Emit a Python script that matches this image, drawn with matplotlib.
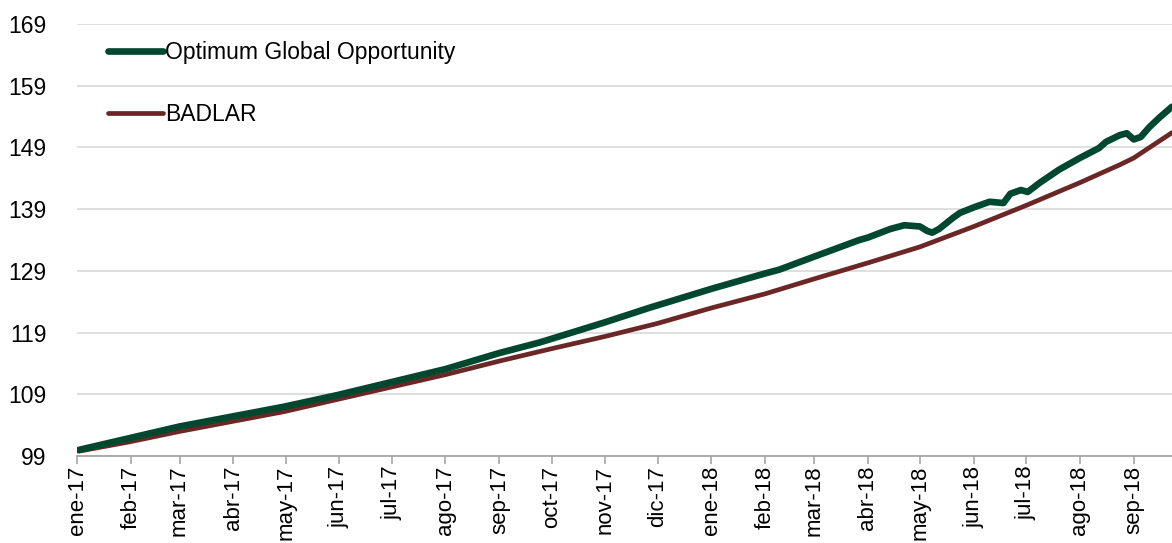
import pandas as pd
import matplotlib.pyplot as plt

# Datos
fechas_fondo = ["2017-01-02", "2017-01-31", "2017-03-01", "2017-03-31", "2017-04-30",
                "2017-05-31", "2017-07-01", "2017-08-01", "2017-09-01", "2017-09-24",
                "2017-10-01", "2017-11-01", "2017-11-26", "2018-01-01", "2018-02-01",
                "2018-02-09", "2018-03-01", "2018-03-27", "2018-04-01", "2018-04-14",
                "2018-04-22", "2018-05-01", "2018-05-05", "2018-05-08", "2018-05-12",
                "2018-05-20", "2018-05-24", "2018-06-01", "2018-06-10", "2018-06-18",
                "2018-06-22", "2018-06-28", "2018-07-02", "2018-07-09", "2018-07-20",
                "2018-08-01", "2018-08-12", "2018-08-16", "2018-08-24", "2018-08-28",
                "2018-09-01", "2018-09-05", "2018-09-10", "2018-09-16", "2018-09-23"]
valores_fondo = [100.0, 101.9, 103.8, 105.4, 107.0,
                 108.9, 111.0, 113.1, 115.7, 117.4,
                 118.0, 120.7, 123.0, 126.1, 128.6,
                 129.2, 131.3, 134.0, 134.4, 135.8,
                 136.4, 136.2, 135.5, 135.2, 135.8,
                 137.6, 138.4, 139.3, 140.2, 140.0,
                 141.5, 142.1, 141.8, 143.3, 145.4,
                 147.3, 148.9, 149.9, 151.0, 151.3,
                 150.3, 150.7, 152.3, 153.9, 155.6]

fechas_badlar = ["2017-01-02", "2017-01-31", "2017-03-01", "2017-03-31", "2017-04-30",
                 "2017-05-31", "2017-07-01", "2017-08-01", "2017-09-01", "2017-10-01",
                 "2017-11-01", "2017-12-01", "2018-01-01", "2018-02-01", "2018-03-01",
                 "2018-04-01", "2018-05-01", "2018-06-01", "2018-07-01", "2018-08-01",
                 "2018-08-24", "2018-09-01", "2018-09-23"]
valores_badlar = [99.8, 101.3, 103.0, 104.6, 106.2,
                  108.2, 110.2, 112.2, 114.4, 116.4,
                  118.4, 120.5, 123.0, 125.3, 127.7,
                  130.3, 132.9, 136.2, 139.6, 143.3,
                  146.2, 147.3, 151.4]

meses = ["ene-17", "feb-17", "mar-17", "abr-17", "may-17", "jun-17", "jul-17",
         "ago-17", "sep-17", "oct-17", "nov-17", "dic-17", "ene-18", "feb-18",
         "mar-18", "abr-18", "may-18", "jun-18", "jul-18", "ago-18", "sep-18"]
y_ticks = [99, 109, 119, 129, 139, 149, 159, 169]

plt.rcParams['font.family'] = ['Liberation Sans Narrow', 'Liberation Sans', 'DejaVu Sans']

verde = "#00472F"
bordo = "#6B2626"

fig = plt.figure(figsize=(11.72, 5.43), dpi=100)
ax = fig.add_axes([0.0657, 0.160, 0.9343, 0.7958])

ax.plot(pd.to_datetime(fechas_badlar), valores_badlar, color=bordo, lw=3.4,
        solid_capstyle="round", label="BADLAR", zorder=3)
ax.plot(pd.to_datetime(fechas_fondo), valores_fondo, color=verde, lw=4.8,
        solid_capstyle="round", label="Optimum Global Opportunity", zorder=4)

ax.set_ylim(99, 169)
ax.set_yticks(y_ticks)
ax.set_xlim(pd.Timestamp("2017-01-01"), pd.Timestamp("2018-09-23"))

ticks_x = pd.date_range("2017-01-01", periods=len(meses), freq="MS")
ax.set_xticks(ticks_x)
ax.set_xticklabels(meses, rotation=90, fontsize=16)

ax.grid(axis="y", color="#d9d9d9", lw=1.2)
ax.set_axisbelow(True)
for s in ["top", "right", "left"]:
    ax.spines[s].set_visible(False)
ax.spines["bottom"].set_color("#a6a6a6")
ax.spines["bottom"].set_linewidth(1.3)

ax.tick_params(axis="y", length=0, pad=22, labelsize=16.5, colors="#000000")
ax.tick_params(axis="x", direction="out", length=6, width=1.2, color="#a6a6a6",
               pad=1, labelsize=16)

# Leyenda: primero el fondo, despues BADLAR
h, l = ax.get_legend_handles_labels()
ax.legend(h[::-1], l[::-1], loc="upper left", bbox_to_anchor=(0.028, 0.961),
          frameon=False, fontsize=16.5, handlelength=2.4, handletextpad=0.1,
          labelspacing=1.7, borderaxespad=0, borderpad=0)

fig.savefig("out.png", dpi=100)
